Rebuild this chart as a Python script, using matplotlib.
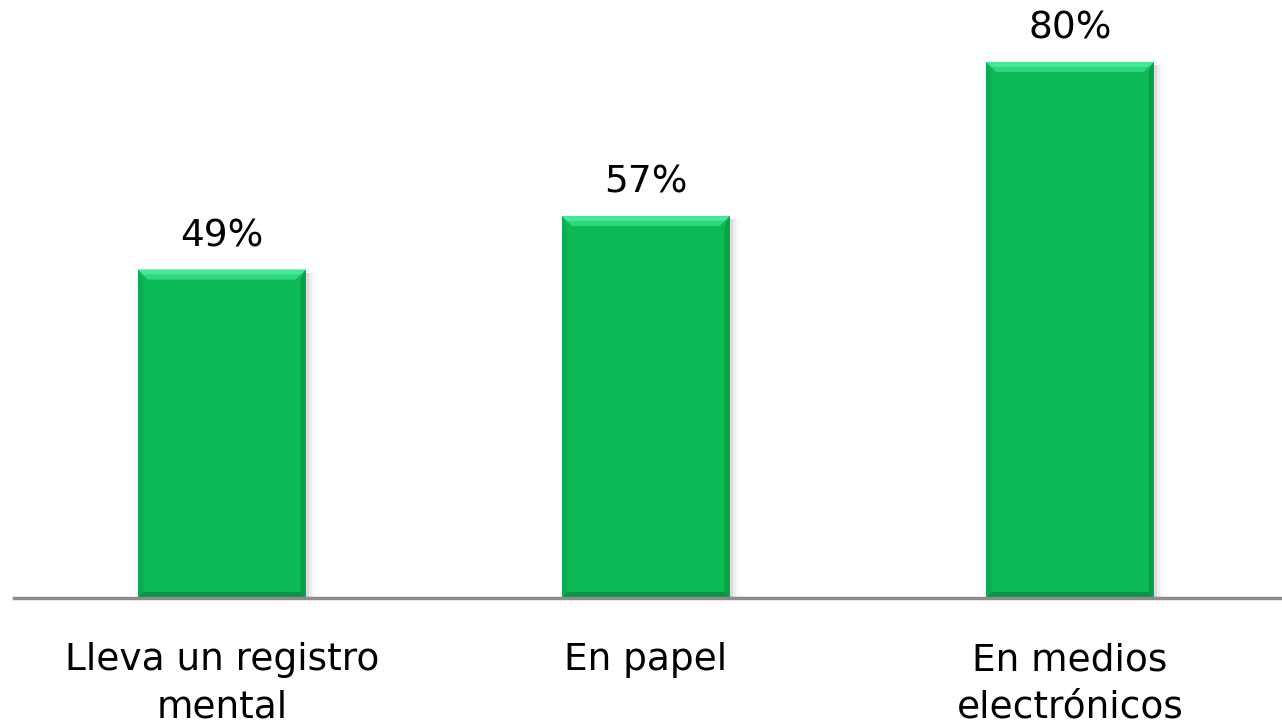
"""Bar chart: tipo de registro que lleva."""

import matplotlib
matplotlib.use('Agg')
import matplotlib.pyplot as plt
from matplotlib.patches import Polygon, Rectangle
import numpy as np

# Data
categories = ["Lleva un registro\nmental", "En papel", "En medios\nelectrónicos"]
values = [49, 57, 80]

fig = plt.figure(figsize=(12.82, 7.25), dpi=100)
fig.patch.set_facecolor('white')
ax = fig.add_axes([14 / 1282, 1 - 598 / 725, 1268 / 1282, 598 / 725])
ax.set_facecolor('none')

x = np.arange(len(categories))
width = 0.395
base_color = '#0BBA56'

bars = ax.bar(x, values, width=width, color=base_color, edgecolor='none', zorder=3)

# pixel -> data conversion for bevel sizes
ax.set_xlim(-0.49, 2.5)
ax.set_ylim(0, 89.25)
fig.canvas.draw()
px_x = (ax.get_xlim()[1] - ax.get_xlim()[0]) / ax.bbox.width
px_y = (ax.get_ylim()[1] - ax.get_ylim()[0]) / ax.bbox.height

for b in bars:
    x0, w, h = b.get_x(), b.get_width(), b.get_height()
    x1 = x0 + w
    bx, by = 10 * px_x, 10 * px_y
    # soft shadow on the right
    for k, a in enumerate([0.10, 0.06, 0.03]):
        ax.add_patch(Rectangle((x1, 0), (k + 1) * 3 * px_x, h - 3 * px_y,
                               color='#404040', alpha=a, lw=0, zorder=2))
    # top bevel (two tones for a bit of gradient)
    ax.add_patch(Polygon([(x0, h), (x1, h), (x1 - bx, h - by), (x0 + bx, h - by)],
                         closed=True, color='#2FD67C', lw=0, zorder=4))
    ax.add_patch(Polygon([(x0, h), (x1, h), (x1 - bx * 0.5, h - by * 0.5), (x0 + bx * 0.5, h - by * 0.5)],
                         closed=True, color='#45E895', lw=0, zorder=4))
    # left edge
    ax.add_patch(Polygon([(x0, h), (x0 + bx * 0.5, h - by), (x0 + bx * 0.5, by * 0.5), (x0, 0)],
                         closed=True, color='#0AAE50', lw=0, zorder=4))
    # right edge
    ax.add_patch(Polygon([(x1, h), (x1 - bx * 0.5, h - by), (x1 - bx * 0.5, by * 0.5), (x1, 0)],
                         closed=True, color='#08A047', lw=0, zorder=4))
    # bottom edge
    ax.add_patch(Polygon([(x0, 0), (x1, 0), (x1 - bx * 0.5, by * 0.6), (x0 + bx * 0.5, by * 0.6)],
                         closed=True, color='#089444', lw=0, zorder=4))

# value labels
for xi, v in zip(x, values):
    ax.annotate(f'{v}%', (xi, v), textcoords='offset points', xytext=(0, 17),
                ha='center', va='baseline', fontsize=27, color='black')

# axis styling
for s in ['top', 'right', 'left']:
    ax.spines[s].set_visible(False)
ax.spines['bottom'].set_color('#8C8C8C')
ax.spines['bottom'].set_linewidth(2.5)
ax.spines['bottom'].set_zorder(5)
ax.set_yticks([])
ax.set_xticks(x)
ax.set_xticklabels(categories, fontsize=27, color='black', linespacing=1.4)
ax.tick_params(axis='x', length=0, pad=32)

fig.savefig('out.png', dpi=100, facecolor='white')
